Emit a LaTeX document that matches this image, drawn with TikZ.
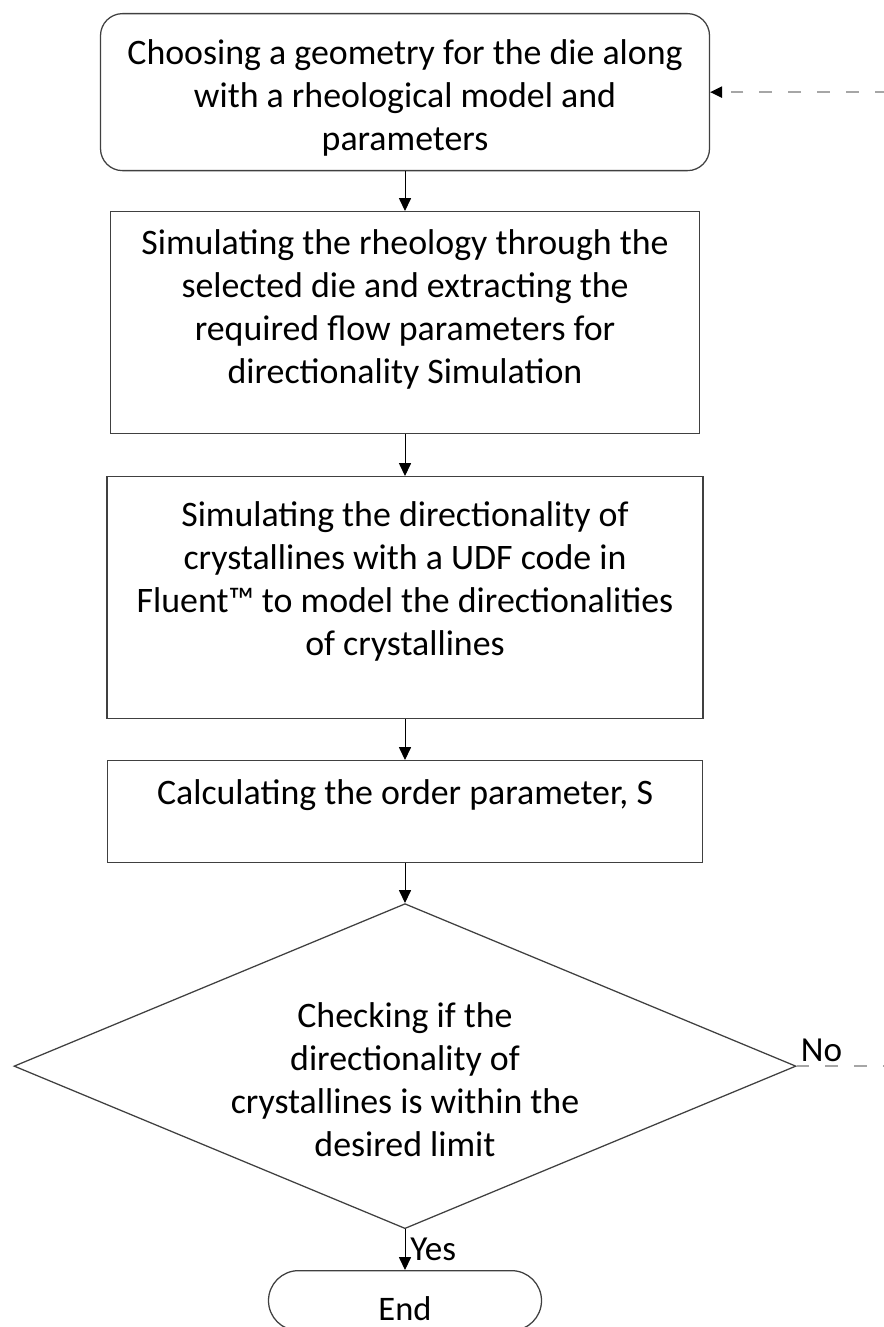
\documentclass[tikz,border=0pt]{standalone}
\usepackage{fontspec}
\setmainfont{Carlito}
\usepackage{tikz}
\usetikzlibrary{arrows.meta, positioning, shapes.geometric}

\begin{document}
\begin{tikzpicture}[
    stepbox/.style={rectangle, draw=black!75, line width=0.9pt, inner xsep=0pt, inner ysep=0pt, align=flush center, anchor=north, font=\fontsize{25.5}{30.6}\selectfont},
    startbox/.style={stepbox, rounded corners=0.55cm},
    endbox/.style={stepbox, rounded corners=0.75cm, font=\fontsize{24.5}{28}\selectfont},
    decision/.style={diamond, draw=black!75, line width=0.9pt, inner sep=0pt, minimum width=19.55cm, minimum height=8.125cm, anchor=north},
    steptext/.style={align=center, inner sep=0pt, font=\fontsize{25.5}{30.6}\selectfont},
    answer/.style={font=\fontsize{25}{28}\selectfont, inner sep=0.1cm},
    flow/.style={-{Triangle[length=0.32cm, width=0.3cm]}, line width=0.7pt, black},
    feedback/.style={-{Triangle[length=0.3cm, width=0.28cm, color=black]}, line width=1.2pt, gray!70, dash pattern=on 0.32cm off 0.4cm},
]

\useasboundingbox (0,0) rectangle (22.075,-33.175);

% Process steps
\node[startbox, text width=15.225cm, text height=1.275cm, text depth=2.65cm] (choose) at (10.125,-0.325) {Choosing a geometry for the die along\\with a rheological model and\\parameters};
\node[stepbox, text width=14.725cm, text height=1.075cm, text depth=4.475cm] (rheology) at (10.125,-5.275) {Simulating the rheology through the\\selected die and extracting the\\required flow parameters for\\directionality Simulation};
\node[stepbox, text width=14.9cm, text height=1.25cm, text depth=4.8cm] (directionality) at (10.125,-11.9) {Simulating the directionality of\\crystallines with a UDF code in\\Fluent\texttrademark{} to model the directionalities\\of crystallines};
\node[stepbox, text width=14.875cm, text height=1.1cm, text depth=1.45cm] (order) at (10.125,-19.0) {Calculating the order parameter, S};

% Decision
\node[decision] (check) at (10.125,-22.575) {};
\node[steptext] (checktext) at ([yshift=-0.35cm]check.center) {Checking if the\\directionality of\\crystallines is within the\\desired limit};

% End
\node[endbox, text width=6.825cm, text height=1.25cm, text depth=0.25cm] (finish) at (10.125,-31.75) {End};

% Connectors
\draw[flow] (choose.south) -- (rheology.north);
\draw[flow] (rheology.south) -- (directionality.north);
\draw[flow] (directionality.south) -- (order.north);
\draw[flow] (order.south) -- (check.north);
\draw[flow] (check.south) -- node[answer, right, inner sep=0.12cm] (yes) {Yes} (finish.north);
\draw[feedback] (check.east) -- ++(3cm,0) |- (choose.east);
\node[answer, anchor=south west] (no) at (check.east) {No};

\end{tikzpicture}
\end{document}
